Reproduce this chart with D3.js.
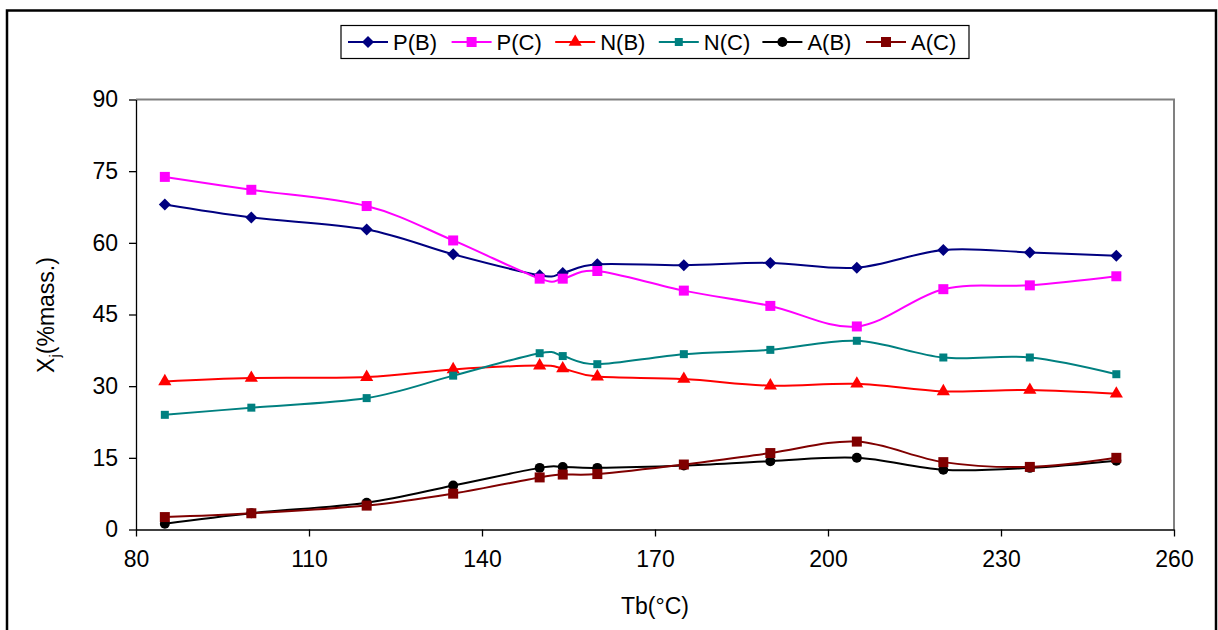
<!DOCTYPE html>
<html>
<head>
<meta charset="utf-8">
<script src="https://cdn.jsdelivr.net/npm/d3@7/dist/d3.min.js"></script>
<style>
  html, body { margin: 0; padding: 0; background: #fff; }
  svg { display: block; font-family: "Liberation Sans", Arial, sans-serif; }
</style>
</head>
<body>
<svg id="chart" width="1218" height="630"></svg>
<script>
const temps = [85, 100, 120, 135, 150, 154, 160, 175, 190, 205, 220, 235, 250];
const PB = [68.0, 65.3, 62.8, 57.6, 53.2, 53.7, 55.5, 55.3, 55.8, 54.8, 58.5, 58.0, 57.3];
const PC = [73.8, 71.1, 67.7, 60.5, 52.5, 52.5, 54.1, 50.0, 46.8, 42.5, 50.3, 51.1, 53.0];
const NB = [31.0, 31.7, 31.9, 33.5, 34.3, 33.7, 32.0, 31.5, 30.1, 30.5, 28.9, 29.2, 28.4];
const NC = [24.0, 25.5, 27.5, 32.2, 36.9, 36.3, 34.6, 36.7, 37.6, 39.5, 36.0, 36.0, 32.5];
const AB = [1.2, 3.4, 5.6, 9.2, 12.9, 13.1, 12.9, 13.4, 14.3, 15.0, 12.5, 12.9, 14.4];
const AC = [2.6, 3.4, 5.0, 7.5, 10.9, 11.5, 11.6, 13.6, 16.0, 18.4, 14.1, 13.1, 15.0];
const seriesNames = ["P(B)", "P(C)", "N(B)", "N(C)", "A(B)", "A(C)"];
const xTicks = [80, 110, 140, 170, 200, 230, 260];
const yTicks = [0, 15, 30, 45, 60, 75, 90];

(function () {
// square diamond (rotated square) symbol
const symbolRhomb = {
  draw(ctx, size) {
    const r = Math.sqrt(size / 2);
    ctx.moveTo(0, -r); ctx.lineTo(r, 0); ctx.lineTo(0, r); ctx.lineTo(-r, 0); ctx.closePath();
  }
};
const series = [
  { name: seriesNames[0], values: PB, color: "#000080", symbol: symbolRhomb, size: 72 },
  { name: seriesNames[1], values: PC, color: "#FF00FF", symbol: d3.symbolSquare, size: 100 },
  { name: seriesNames[2], values: NB, color: "#FF0000", symbol: d3.symbolTriangle, size: 75 },
  { name: seriesNames[3], values: NC, color: "#008080", symbol: d3.symbolSquare, size: 64 },
  { name: seriesNames[4], values: AB, color: "#000000", symbol: d3.symbolCircle, size: 78 },
  { name: seriesNames[5], values: AC, color: "#800000", symbol: d3.symbolSquare, size: 100 }
];

const svg = d3.select("#chart");
const pLeft = 136, pRight = 1174, pTop = 99.5, pBottom = 529.5;

svg.append("rect").attr("x", 7).attr("y", 10.5).attr("width", 1209).attr("height", 640)
  .attr("fill", "#fff").attr("stroke", "#000").attr("stroke-width", 2.5);

const x = d3.scaleLinear().domain([80, 260]).range([pLeft, pRight]);
const y = d3.scaleLinear().domain([0, 90]).range([pBottom, pTop]);

svg.append("path")
  .attr("d", `M${pLeft},${pTop}H${pRight}V${pBottom}`)
  .attr("fill", "none").attr("stroke", "#808080").attr("stroke-width", 2);

const xAxis = svg.append("g").attr("transform", `translate(0,${pBottom})`)
  .call(d3.axisBottom(x).tickValues(xTicks).tickSize(7).tickPadding(14).tickSizeOuter(0));
const yAxis = svg.append("g").attr("transform", `translate(${pLeft},0)`)
  .call(d3.axisLeft(y).tickValues(yTicks).tickSize(7).tickPadding(11).tickSizeOuter(0));
[xAxis, yAxis].forEach(g => {
  g.select(".domain").attr("stroke", "#000").attr("stroke-width", 1.3);
  g.selectAll(".tick line").attr("stroke", "#000").attr("stroke-width", 1.3);
  g.selectAll(".tick text").attr("fill", "#000").style("font-size", "23px")
    .style("font-family", "'Liberation Sans', Arial, sans-serif");
});

svg.append("text").attr("x", 655).attr("y", 614).attr("text-anchor", "middle")
  .style("font-size", "23px").text("Tb(°C)");
const yt = svg.append("text").attr("transform", "translate(54,315) rotate(-90)")
  .attr("text-anchor", "middle").style("font-size", "23px");
yt.append("tspan").text("X");
yt.append("tspan").attr("dy", 6).style("font-size", "15px").text("j");
yt.append("tspan").attr("dy", -6).text("(%mass.)");

const line = d3.line().x((d, i) => x(temps[i])).y(d => y(d)).curve(d3.curveCatmullRom.alpha(0));
const plot = svg.append("g");
series.forEach(s => {
  plot.append("path").attr("d", line(s.values)).attr("fill", "none")
    .attr("stroke", s.color).attr("stroke-width", 2);
});
series.forEach(s => {
  plot.selectAll(null).data(s.values).enter().append("path")
    .attr("transform", (d, i) => `translate(${x(temps[i])},${y(d)})`)
    .attr("d", d3.symbol().type(s.symbol).size(s.size)())
    .attr("fill", s.color);
});

svg.append("rect").attr("x", 341).attr("y", 25.5).attr("width", 628).attr("height", 33)
  .attr("fill", "#fff").attr("stroke", "#000").attr("stroke-width", 1.2);
const leg = svg.append("g");
series.forEach((s, i) => {
  const x0 = 348 + i * 103.6, yc = 42;
  leg.append("line").attr("x1", x0).attr("x2", x0 + 40).attr("y1", yc).attr("y2", yc)
    .attr("stroke", s.color).attr("stroke-width", 2);
  leg.append("path").attr("transform", `translate(${x0 + 20},${yc})`)
    .attr("d", d3.symbol().type(s.symbol).size(s.size)()).attr("fill", s.color);
  leg.append("text").attr("x", x0 + 45).attr("y", yc + 8).style("font-size", "22px").text(s.name);
});
})();
</script>
</body>
</html>
